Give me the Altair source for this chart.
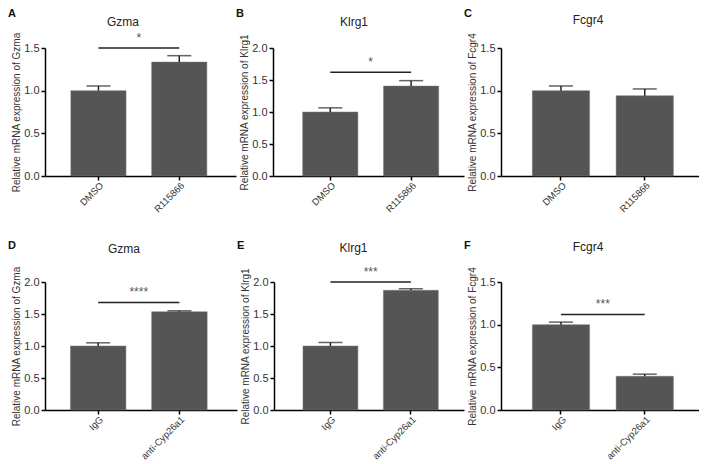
import altair as alt
import pandas as pd

# ---------------- data ----------------
letters = ["A", "B", "C", "D", "E", "F"]
genes = ["Gzma", "Klrg1", "Fcgr4", "Gzma", "Klrg1", "Fcgr4"]
groups_top = ["DMSO", "R115866"]
groups_bottom = ["IgG", "anti-Cyp26a1"]
means = [[1.00, 1.335], [1.00, 1.405], [1.00, 0.94],
         [1.00, 1.535], [1.00, 1.87], [1.00, 0.395]]
upper = [[1.055, 1.41], [1.065, 1.49], [1.055, 1.02],
         [1.05, 1.55], [1.055, 1.895], [1.03, 0.42]]
y_max = [1.5, 2.0, 1.5, 2.0, 2.0, 1.5]
y_titles = ["Relative mRNA expression of Gzma",
            "Relative mRNA expression of Klrg1",
            "Relative mRNA expression of  Fcgr4",
            "Relative mRNA expression of Gzma",
            "Relative mRNA expression of Klrg1",
            "Relative mRNA expression of  Fcgr4"]
sig_labels = ["*", "*", "", "****", "***", "***"]
sig_heights = [1.5, 1.62, None, 1.68, 2.0, 1.12]

# ---------------- layout / style ----------------
FONT = "Liberation Sans"
BAR = "#555555"
INK = "#222222"
widths = [191, 191, 198, 192, 190, 198]
aligns = [0.47, 0.54, 0.55, 0.46, 0.53, 0.55]
title_x = [78, 81, 87, 79, 79.5, 87]
title_y = [-26, -26, -28, -33, -34, -35]
LETTER_X = -37
letter_y = [-40, -40, -40, -42, -42, -42]
HEIGHT = 128
P_IN = 0.317
P_OUT = 0.34


def panel(i):
    cats = groups_top if i < 3 else groups_bottom
    ticks = [k * 0.5 for k in range(int(round(y_max[i] / 0.5)) + 1)]
    df = pd.DataFrame({"group": cats, "mean": means[i], "upper": upper[i]})
    xscale = alt.Scale(domain=cats, paddingInner=P_IN, paddingOuter=P_OUT, align=aligns[i])
    yscale = alt.Scale(domain=[0, y_max[i]], nice=False, zero=True)
    xaxis = alt.Axis(title=None, labelAngle=-45, labelAlign="right", labelBaseline="top",
                     labelFontSize=9.5, labelPadding=0)
    yaxis = alt.Axis(title=y_titles[i], values=ticks, format=".1f", labelFontSize=11,
                     labelPadding=2, titleFontSize=10, titleFontWeight="normal",
                     titlePadding=2, titleColor="#333333")

    def X(field):
        return alt.X(field, scale=xscale, axis=xaxis)

    def Y(field):
        return alt.Y(field, scale=yscale, axis=yaxis, title=y_titles[i])

    base = alt.Chart(df)
    bars = base.mark_bar(color=BAR, stroke="#777777", strokeWidth=0.5).encode(
        x=X("group:N"), y=Y("mean:Q"))
    stem = base.mark_rule(color=INK, strokeWidth=1.5).encode(
        x=X("group:N"), y=Y("mean:Q"), y2="upper:Q")
    cap = base.mark_tick(color=INK, size=24, thickness=1.5, orient="horizontal").encode(
        x=X("group:N"), y=Y("upper:Q"))
    layers = [bars, stem, cap]

    if sig_labels[i]:
        sdf = pd.DataFrame({"a": [cats[0]], "b": [cats[1]], "h": [sig_heights[i]],
                            "label": [sig_labels[i]]})
        sbase = alt.Chart(sdf)
        line = sbase.mark_rule(color=INK, strokeWidth=1.5).encode(
            x=X("a:N"), x2="b:N", y=Y("h:Q"))
        step = widths[i] / (2 - P_IN + 2 * P_OUT)
        star = sbase.mark_text(font=FONT, fontSize=12, color="#555555", baseline="alphabetic",
                               align="center", dx=step / 2, dy=-6).encode(
            x=X("a:N"), y=Y("h:Q"), text="label:N")
        layers += [line, star]

    tdf = pd.DataFrame({"gene": [genes[i]], "letter": [letters[i]]})
    tbase = alt.Chart(tdf)
    title = tbase.mark_text(font=FONT, fontSize=12, color="#222222", baseline="middle",
                            align="center").encode(
        x=alt.value(title_x[i]), y=alt.value(title_y[i]), text="gene:N")
    letter = tbase.mark_text(font=FONT, fontSize=11, fontWeight="bold", color="#111111",
                             baseline="top", align="left").encode(
        x=alt.value(LETTER_X), y=alt.value(letter_y[i]), text="letter:N")
    layers += [title, letter]

    return alt.layer(*layers).properties(width=widths[i], height=HEIGHT)


row1 = alt.hconcat(panel(0), panel(1), panel(2), spacing=0)
row2 = alt.hconcat(panel(3), panel(4), panel(5), spacing=0)
chart = alt.vconcat(row1, row2, spacing=26).properties(
    padding=0, background="white"
).configure_view(stroke=None).configure_axis(
    grid=False, domainColor="#000000", domainWidth=1.5, tickColor="#000000",
    tickWidth=1.5, tickSize=4, labelColor="#333333", labelFont=FONT, titleFont=FONT
)

chart.save("out.html", embed_options={"renderer": "svg", "actions": False})
